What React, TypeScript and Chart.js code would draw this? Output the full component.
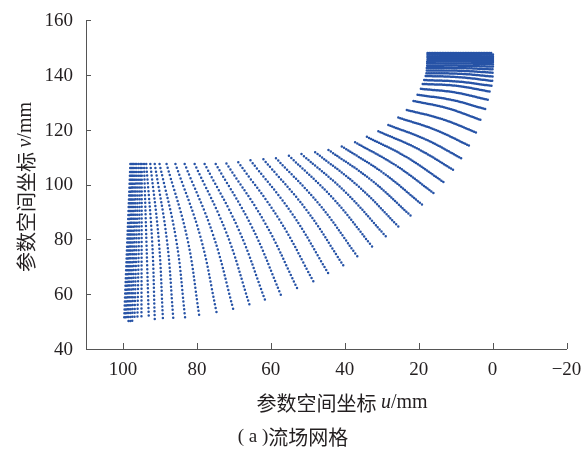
import React, { useEffect, useRef } from "react";
import { Chart, registerables } from "chart.js";

Chart.register(...registerables);

// Mesh curves: each curve runs from the outer boundary (top) to the inner boundary (bottom)
const topU = [98.0, 97.7, 97.4, 97.1, 96.7, 96.3, 95.8, 95.3, 94.9, 94.3,
  93.7, 92.6, 91.4, 90.1, 88.2, 85.8, 83.3, 80.6, 77.9, 74.9,
  72.0, 68.8, 65.5, 62.0, 58.6, 55.1, 51.7, 48.0, 44.4, 40.8,
  37.2, 34.0, 30.9, 28.2, 25.5, 23.2, 21.4, 20.3, 19.4, 18.9,
  18.5, 18.1, 17.9, 17.8, 17.8, 17.7, 17.7, 17.7, 17.6, 17.6, 17.6, 17.6, 17.6];
const topV = [107.5, 107.5, 107.5, 107.5, 107.5, 107.5, 107.5, 107.5, 107.5, 107.5,
  107.5, 107.5, 107.5, 107.5, 107.5, 107.5, 107.5, 107.5, 107.5, 107.5,
  107.7, 108.1, 108.8, 109.2, 109.6, 110.5, 111.1, 111.8, 112.6, 113.9,
  115.4, 117.4, 119.4, 121.7, 124.4, 127.2, 130.5, 132.7, 134.9, 136.7,
  138.1, 139.6, 140.6, 141.6, 142.5, 143.3, 144.1, 144.8, 145.5, 146.2, 146.8, 147.4, 148.0];
const midU = [98.85, 98.5, 98.15, 97.8, 97.35, 96.9, 96.35, 95.7, 94.95, 93.65,
  92.1, 90.3, 88.1, 85.6, 82.6, 79.05, 75.6, 72.05, 68.65, 65.05,
  61.45, 57.7, 54.1, 50.35, 46.8, 43.1, 39.65, 36.15, 32.75, 29.5,
  26.2, 23.3, 20.5, 18.1, 15.7, 13.65, 12.2, 11.05, 10.25, 9.8,
  9.35, 9.05, 8.9, 8.9, 8.9, 8.8, 8.8, 8.8, 8.75, 8.75, 8.75, 8.75, 8.75];
const midV = [78.8, 78.8, 78.85, 78.85, 78.85, 78.9, 78.9, 78.95, 79.0, 79.1,
  79.2, 79.5, 79.6, 79.8, 80.35, 80.95, 81.6, 82.5, 83.4, 84.35,
  85.7, 87.2, 89.1, 90.7, 92.6, 94.85, 97.0, 99.15, 101.55, 104.15,
  107.0, 110.0, 113.2, 116.45, 120.05, 123.85, 127.8, 130.85, 133.6, 136.0,
  137.55, 139.15, 140.4, 141.5, 142.5, 143.35, 144.15, 144.85, 145.5, 146.2, 146.85, 147.45, 148.0];
const botU = [99.7, 99.3, 98.9, 98.5, 98.0, 97.5, 96.9, 96.1, 95.0, 93.0,
  91.4, 89.2, 86.4, 83.2, 79.4, 74.7, 70.2, 65.8, 61.6, 57.3,
  52.9, 48.5, 44.5, 40.4, 36.6, 32.6, 28.9, 25.5, 22.2, 19.1,
  16.0, 13.3, 10.7, 8.5, 6.4, 4.5, 3.3, 2.0, 1.3, 0.8,
  0.3, 0.1, 0.0, 0.0, 0.0, -0.1, -0.1, -0.1, -0.1, -0.1, -0.1, -0.1, -0.1];
const botV = [50.1, 50.1, 50.2, 50.2, 50.2, 50.3, 50.3, 50.4, 50.5, 50.7,
  50.9, 51.3, 51.4, 51.6, 52.5, 53.5, 54.7, 56.3, 58.0, 59.8,
  62.2, 64.7, 67.7, 70.5, 73.8, 77.4, 81.1, 84.7, 88.7, 92.7,
  96.9, 100.9, 105.4, 109.6, 114.2, 119.0, 123.6, 127.5, 130.9, 133.9,
  136.0, 137.8, 139.4, 140.8, 142.0, 143.0, 143.9, 144.7, 145.4, 146.1, 146.8, 147.4, 148.0];

const xTicks = [100, 80, 60, 40, 20, 0, -20];
const yTicks = [40, 60, 80, 100, 120, 140, 160];

const POINTS_PER_CURVE = 41;
const DOT_COLOR = "#2753a6";
const AXIS_COLOR = "#555";
const TEXT_COLOR = "#231f20";
const SERIF = '"Liberation Serif", "DejaVu Serif", serif';
const CJK = '"Noto Sans CJK SC", sans-serif';

function fmt(v: number) {
  return v < 0 ? "\u2212" + Math.abs(v) : String(v);
}

function drawMixed(ctx: CanvasRenderingContext2D, parts: { t: string; f: string }[], cx: number, cy: number) {
  let total = 0;
  for (const p of parts) {
    ctx.font = p.f;
    total += ctx.measureText(p.t).width;
  }
  let x = cx - total / 2;
  ctx.textAlign = "left";
  ctx.textBaseline = "middle";
  for (const p of parts) {
    ctx.font = p.f;
    ctx.fillText(p.t, x, cy);
    x += ctx.measureText(p.t).width;
  }
}

const decorPlugin = {
  id: "decor",
  afterDraw(chart: any) {
    const ctx: CanvasRenderingContext2D = chart.ctx;
    const xs = chart.scales.x;
    const ys = chart.scales.y;
    const area = chart.chartArea;
    ctx.save();
    // inward tick marks
    ctx.strokeStyle = AXIS_COLOR;
    ctx.lineWidth = 1;
    ctx.beginPath();
    for (const v of xTicks) {
      const px = Math.round(xs.getPixelForValue(v)) + 0.5;
      ctx.moveTo(px, area.bottom);
      ctx.lineTo(px, area.bottom - 6);
    }
    for (const v of yTicks) {
      if (v === 40) continue;
      const py = Math.round(ys.getPixelForValue(v)) + 0.5;
      ctx.moveTo(area.left, py);
      ctx.lineTo(area.left + 5, py);
    }
    ctx.stroke();

    ctx.fillStyle = TEXT_COLOR;
    // tick labels
    ctx.font = `19px ${SERIF}`;
    ctx.textBaseline = "middle";
    ctx.textAlign = "center";
    for (const v of xTicks) {
      ctx.fillText(fmt(v), xs.getPixelForValue(v), area.bottom + 21);
    }
    ctx.textAlign = "right";
    for (const v of yTicks) {
      ctx.fillText(fmt(v), area.left - 13, ys.getPixelForValue(v) + 1);
    }

    // x axis title
    drawMixed(ctx, [
      { t: "参数空间坐标 ", f: `20px ${CJK}` },
      { t: "u", f: `italic 20px ${SERIF}` },
      { t: "/mm", f: `20px ${SERIF}` },
    ], 342, 403);
    // y axis title
    ctx.save();
    ctx.translate(26, 187);
    ctx.rotate(-Math.PI / 2);
    drawMixed(ctx, [
      { t: "参数空间坐标 ", f: `20px ${CJK}` },
      { t: "v", f: `italic 20px ${SERIF}` },
      { t: "/mm", f: `20px ${SERIF}` },
    ], 0, 0);
    ctx.restore();
    // caption
    drawMixed(ctx, [
      { t: "( a )", f: `19px ${SERIF}` },
      { t: "流场网格", f: `20px ${CJK}` },
    ], 293, 437);
    ctx.restore();
  },
};

export default function App() {
  const canvasRef = useRef<HTMLCanvasElement | null>(null);

  useEffect(() => {
    const datasets = topU.map((_, i) => ({
      data: [
        { x: topU[i], y: topV[i] },
        { x: midU[i], y: midV[i] },
        { x: botU[i], y: botV[i] },
      ],
      showLine: true,
      pointRadius: 0,
      borderColor: DOT_COLOR,
      borderWidth: 2.5,
      borderCapStyle: "round" as const,
      borderDash: [0, 3.7],
      tension: 0.4,
      fill: false,
    }));

    const chart = new Chart(canvasRef.current as HTMLCanvasElement, {
      type: "scatter",
      data: { datasets },
      plugins: [decorPlugin],
      options: {
        responsive: false,
        animation: false,
        events: [],
        layout: { padding: { top: 20, right: 17.5, left: 0, bottom: 0 } },
        plugins: { legend: { display: false }, tooltip: { enabled: false } },
        scales: {
          x: {
            type: "linear",
            min: -20,
            max: 110,
            reverse: true,
            afterFit: (s: any) => {
              s.height = 102;
            },
            ticks: { display: false },
            grid: { display: false, drawTicks: false },
            border: { display: true, color: AXIS_COLOR, width: 1 },
          },
          y: {
            type: "linear",
            min: 40,
            max: 160,
            afterFit: (s: any) => {
              s.width = 86;
            },
            ticks: { display: false },
            grid: { display: false, drawTicks: false },
            border: { display: true, color: AXIS_COLOR, width: 1 },
          },
        },
      } as any,
    });

    // dot spacing: each curve carries the same number of mesh nodes
    const xs: any = chart.scales.x;
    const ys: any = chart.scales.y;
    chart.data.datasets.forEach((ds: any) => {
      let L = 0;
      for (let k = 1; k < ds.data.length; k++) {
        const dx = xs.getPixelForValue(ds.data[k].x) - xs.getPixelForValue(ds.data[k - 1].x);
        const dy = ys.getPixelForValue(ds.data[k].y) - ys.getPixelForValue(ds.data[k - 1].y);
        L += Math.hypot(dx, dy);
      }
      ds.borderDash = [0, L / (POINTS_PER_CURVE - 1)];
    });
    chart.update("none");

    return () => chart.destroy();
  }, []);

  return (
    <div style={{ position: "absolute", left: 0, top: 0, width: 584, height: 451, background: "#fff" }}>
      <canvas ref={canvasRef} width={584} height={451} style={{ display: "block" }} />
    </div>
  );
}
